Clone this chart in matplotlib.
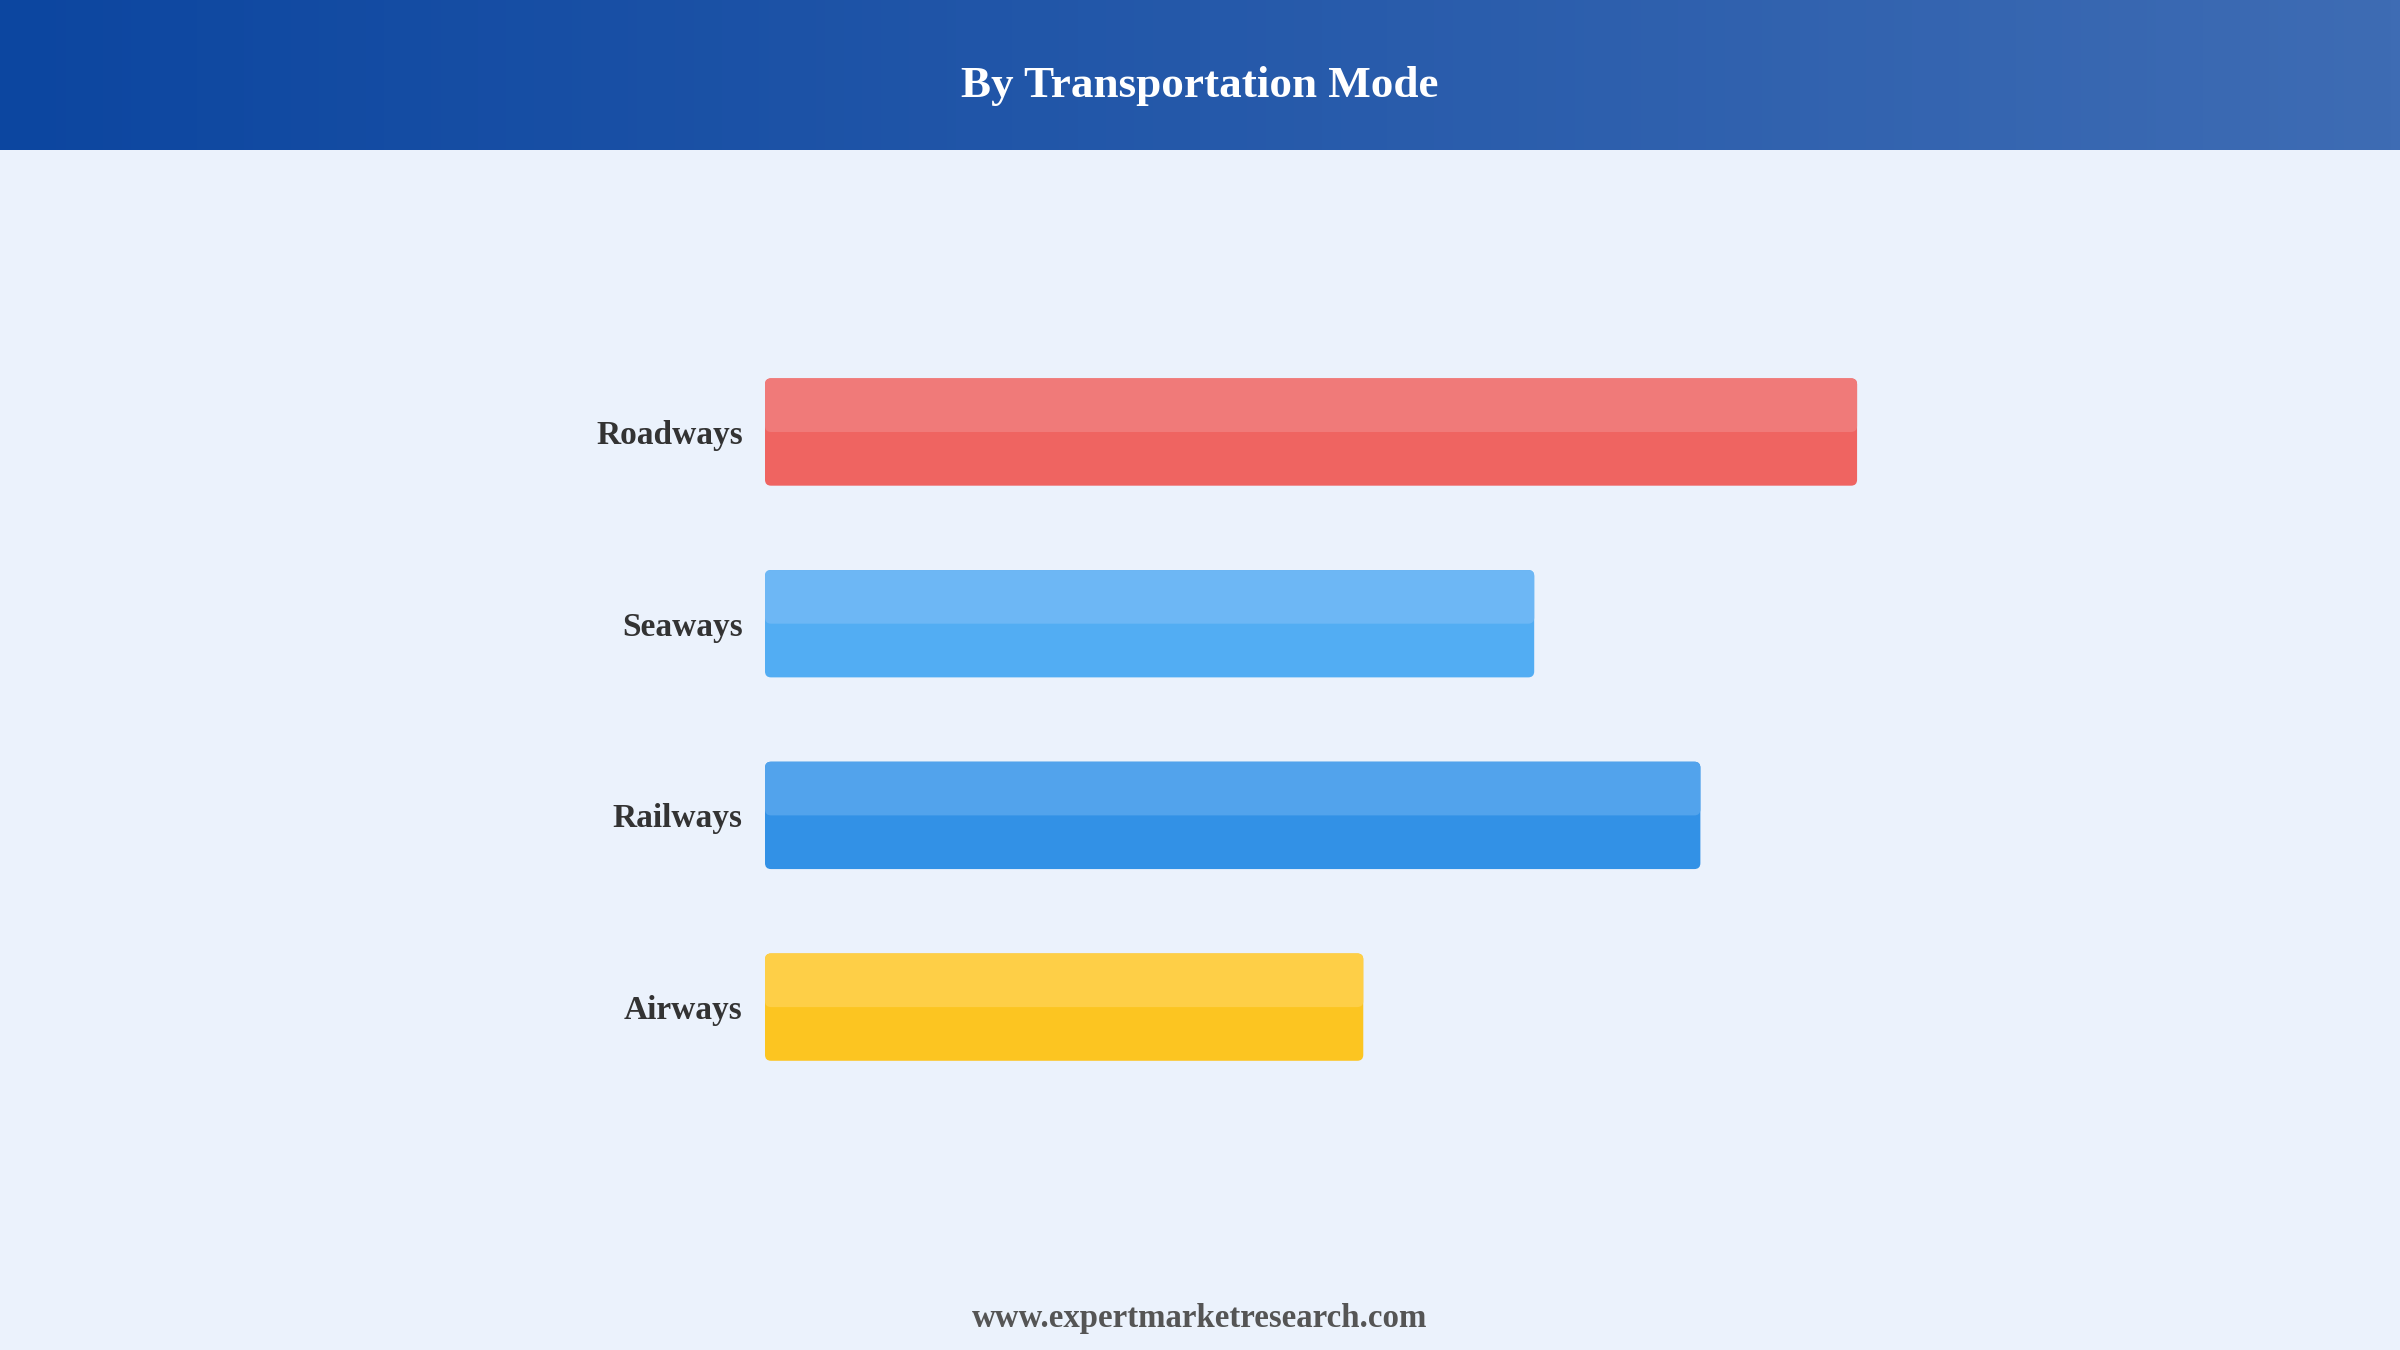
import numpy as np
import matplotlib.pyplot as plt
from matplotlib.patches import FancyBboxPatch

plt.rcParams["font.family"] = ["Liberation Serif", "DejaVu Serif"]

modes = ["Roadways", "Seaways", "Railways", "Airways"]
values = [46.0, 32.4, 39.4, 25.2]
colors_bottom = ["#EF6461", "#52ADF3", "#3291E6", "#FCC521"]
colors_top = ["#F07A79", "#6DB7F5", "#52A3EC", "#FECF47"]

bg = "#EBF2FC"
fig = plt.figure(figsize=(24, 13.5), dpi=100, facecolor=bg)

# header band with horizontal gradient
hax = fig.add_axes([0, 1 - 150 / 1350, 1, 150 / 1350])
c0 = np.array([12, 70, 160]) / 255
c1 = np.array([62, 108, 180]) / 255
t = np.linspace(0, 1, 256)[None, :, None]
grad = c0 + (c1 - c0) * t
hax.imshow(grad, aspect="auto", extent=[0, 1, 0, 1])
hax.set_axis_off()
fig.text(0.5, 1 - 86 / 1350, "By Transportation Mode", ha="center", va="center",
         fontsize=32.5, fontweight="bold", color="white")

ax = fig.add_axes([765 / 2400, 0.183, 0.4946, 0.568])
ax.set_facecolor(bg)
ax.set_xlim(0, 50)
ax.set_ylim(3.5, -0.5)
bar_h = 0.56

# rounded bars: darker colour as the full bar, lighter upper half on top
px_per_x = 0.4946 * 2400 / 50
px_per_y = 0.568 * 1350 / 4
r = 6 / px_per_x
for i, v in enumerate(values):
    for y0, h, col in [(i - bar_h / 2, bar_h, colors_bottom[i]),
                       (i - bar_h / 2, bar_h / 2, colors_top[i])]:
        ax.add_patch(FancyBboxPatch((0, y0), v, h,
                                    boxstyle=f"round,pad=0,rounding_size={r}",
                                    mutation_aspect=px_per_x / px_per_y,
                                    facecolor=col, edgecolor="none"))

ax.set_yticks(range(len(modes)))
ax.set_yticklabels(modes, fontsize=24, fontweight="bold", color="#333333")
ax.tick_params(axis="y", length=0, pad=16)
ax.set_xticks([])
for s in ax.spines.values():
    s.set_visible(False)

fig.text(0.5, 1 - 1318 / 1350, "www.expertmarketresearch.com", ha="center", va="center",
         fontsize=23.7, fontweight="bold", color="#555555")

fig.savefig("out.png", dpi=100, facecolor=bg)
